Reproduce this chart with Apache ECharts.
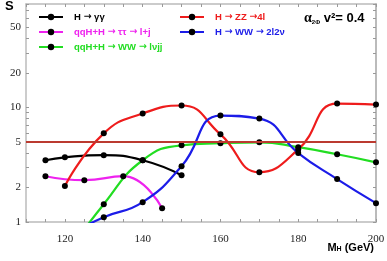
<!DOCTYPE html>
<html><head><meta charset="utf-8">
<script src="https://cdn.jsdelivr.net/npm/echarts@6/dist/echarts.min.js"></script>
<style>html,body{margin:0;padding:0;background:#fff}#c{width:387px;height:261px}</style>
</head><body><div id="c"></div>
<script>
const nameGG = 'H → γγ';
const nameTT = 'qqH+H → ττ → l+j';
const nameLVJJ = 'qqH+H → WW → lνjj';
const nameZZ = 'H → ZZ →4l';
const nameWW = 'H → WW → 2l2ν';

const massesGG = [115, 120, 130, 140, 150];
const valuesGG = [3.46, 3.67, 3.83, 3.46, 2.56];
const massesTT = [115, 125, 135, 145];
const valuesTT = [2.51, 2.32, 2.51, 1.32];
const massesLVJJ = [120, 130, 140, 150, 160, 170, 180, 190, 200];
const valuesLVJJ = [0.5, 1.43, 3.46, 4.67, 4.87, 4.96, 4.5, 3.9, 3.32];
const massesZZ = [120, 130, 140, 150, 160, 170, 180, 190, 200];
const valuesZZ = [2.06, 5.94, 8.87, 10.4, 5.83, 2.72, 4.3, 10.8, 10.6];
const massesWW = [120, 130, 140, 150, 160, 170, 180, 190, 200];
const valuesWW = [0.75, 1.1, 1.49, 3.07, 8.5, 8.0, 4.0, 2.37, 1.46];
const threshold = 5;
const xTickLabels = [120, 140, 160, 180, 200];
const yTickLabels = [1, 2, 5, 10, 20, 50];
const yTicks = [1,2,3,4,5,6,7,8,9,10,20,30,40,50,60,70,80];

const colors = {gg:'#000000', tt:'#ee22ee', lvjj:'#22dd22', zz:'#ee1c1c', ww:'#1c1ce8'};

function mk(name, xs, ys, color) {
  return {
    name, type: 'line', data: xs.map((x, i) => [x, ys[i]]),
    smooth: 0.5, symbol: 'circle', symbolSize: 6,
    itemStyle: {color: '#000'}, lineStyle: {color, width: 2.2},
    clip: true, z: 3
  };
}
const axisCol = '#bbbbbb';
const tickCol = '#999999';
const labelFont = {color:'#222', fontFamily:'Liberation Serif', fontSize:11};
const legendText = {fontFamily:'Liberation Sans', fontWeight:'bold', fontSize:10, padding:[0,0,0,6],
  rich:{a:{fontFamily:'DejaVu Sans', fontWeight:'bold', fontSize:9.5}, t:{fontFamily:'Liberation Sans', fontWeight:'bold', fontSize:9.5}}};
const legendFmt = n => n.split('→').map(p => '{t|' + p + '}').join('{a|→}');

const chart = echarts.init(document.getElementById('c'), null, {renderer:'canvas'});
chart.setOption({
  animation: false,
  grid: {left: 26, right: 11, top: 4, bottom: 39, outerBoundsMode: 'none'},
  xAxis: [
    {type:'value', min:110, max:200, interval:5,
     axisLine:{lineStyle:{color:axisCol, width:1.5}},
     axisTick:{inside:true, length:3, lineStyle:{color:tickCol}},
     axisLabel:Object.assign({margin:12, formatter: v => xTickLabels.includes(v) ? String(v) : ''}, labelFont),
     splitLine:{show:false}},
    {type:'value', position:'top', min:110, max:200, interval:5,
     axisLine:{show:true, lineStyle:{color:axisCol, width:1.5}},
     axisTick:{inside:true, length:3, lineStyle:{color:tickCol}},
     axisLabel:{show:false}, splitLine:{show:false}}
  ],
  yAxis: [
    {type:'log', logBase:10, min:1, max:80,
     axisLine:{show:true, lineStyle:{color:axisCol, width:1.5}},
     axisTick:{show:true, inside:true, length:3, customValues: yTicks, lineStyle:{color:tickCol}},
     axisLabel:Object.assign({margin:5, customValues: yTickLabels}, labelFont),
     splitLine:{show:false}, minorTick:{show:false}},
    {type:'log', logBase:10, min:1, max:80, position:'right',
     axisLine:{show:true, lineStyle:{color:axisCol, width:2}},
     axisTick:{show:true, inside:true, length:3, customValues: yTicks, lineStyle:{color:tickCol}},
     axisLabel:{show:false}, splitLine:{show:false}}
  ],
  legend: [
    {left: 38, top: 12, padding: 0, orient: 'vertical', itemWidth: 24, itemHeight: 8, itemGap: 5,
     formatter: legendFmt, textStyle: legendText,
     data:[{name:nameGG, textStyle:{color:colors.gg}},
           {name:nameTT, textStyle:{color:colors.tt}},
           {name:nameLVJJ, textStyle:{color:colors.lvjj}}]},
    {left: 179, top: 12, padding: 0, orient: 'vertical', itemWidth: 24, itemHeight: 8, itemGap: 5,
     formatter: legendFmt, textStyle: legendText,
     data:[{name:nameZZ, textStyle:{color:colors.zz}},
           {name:nameWW, textStyle:{color:colors.ww}}]}
  ],
  graphic: [
    {type:'text', left: 5, top: 0, style:{text:'S', font:'bold 13px "Liberation Sans"', fill:'#000'}},
    {type:'text', right: 13, top: 242,
     style:{text:'{b|M}{s|H}{b| (GeV)}', rich:{b:{font:'bold 11px "Liberation Sans"', fill:'#000'}, s:{font:'bold 7px "Liberation Sans"', fill:'#000', verticalAlign:'bottom'}}}},
    {type:'text', left: 304, top: 11,
     style:{text:'{g|α}{s|2Φ}{b| v²= 0.4}', rich:{g:{font:'bold 14px "Liberation Serif"', fill:'#000'}, b:{font:'bold 13px "Liberation Sans"', fill:'#000'}, s:{font:'bold 6px "Liberation Sans"', fill:'#000', verticalAlign:'bottom'}}}}
  ],
  series: [
    {name:'threshold', type:'line', data:[], markLine:{silent:true, symbol:'none', label:{show:false},
      lineStyle:{color:'#bb3a30', width:2, type:'solid'}, data:[{yAxis: threshold}]}, z:2},
    mk(nameGG, massesGG, valuesGG, colors.gg),
    mk(nameTT, massesTT, valuesTT, colors.tt),
    mk(nameLVJJ, massesLVJJ, valuesLVJJ, colors.lvjj),
    mk(nameZZ, massesZZ, valuesZZ, colors.zz),
    mk(nameWW, massesWW, valuesWW, colors.ww)
  ]
});
</script>
</body></html>
